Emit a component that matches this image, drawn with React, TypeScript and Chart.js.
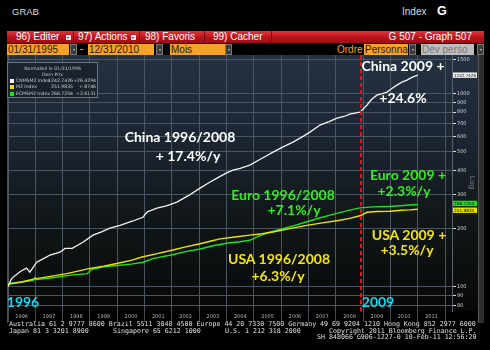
import React, { useEffect, useRef } from "react";
import { Chart, registerables } from "chart.js";
Chart.register(...registerables);

// ---------- data ----------
const chinaT = [1996.0, 1996.1, 1996.15, 1996.45, 1996.68, 1996.8, 1997.05, 1997.3, 1997.54, 1997.9, 1998.09, 1998.35, 1998.74, 1999.11, 1999.4, 1999.73, 2000.1, 2000.57, 2000.94, 2001.1, 2001.45, 2001.8, 2002.18, 2002.6, 2003.03, 2003.35, 2003.65, 2004.0, 2004.23, 2004.5, 2004.85, 2005.3, 2005.7, 2006.05, 2006.43, 2006.8, 2007.05, 2007.42, 2007.75, 2008.04, 2008.3, 2008.51, 2008.88, 2009.0, 2009.14, 2009.3, 2009.5, 2009.7, 2009.87, 2010.05, 2010.23, 2010.4, 2010.6, 2010.8, 2011.0];
const chinaV = [100, 108, 111, 120, 125, 119, 134, 140, 146, 151, 158, 158, 170, 185, 192, 201, 208, 219, 229, 244, 255, 262, 274, 296, 324, 345, 365, 388, 401, 410, 426, 462, 497, 528, 560, 600, 631, 686, 715, 745, 760, 782, 800, 830, 871, 930, 980, 998, 1016, 1060, 1104, 1140, 1172, 1215, 1242.74];

const usaT = [1996.0, 1996.5, 1996.93, 1997.5, 1998.15, 1998.6, 1999.0, 1999.5, 1999.98, 2000.5, 2000.94, 2001.5, 2002.04, 2002.5, 2003.03, 2003.4, 2003.76, 2004.3, 2004.85, 2005.3, 2005.7, 2006.3, 2006.94, 2007.5, 2008.15, 2008.5, 2008.88, 2009.14, 2009.5, 2009.98, 2010.4, 2010.7, 2011.0];
const usaV = [103, 106, 109.6, 113, 117, 121, 124.5, 128, 132, 137, 143, 149, 155, 161, 167, 172, 177, 181, 185, 188, 192, 200, 208, 214, 221, 226, 233, 243, 245, 246, 249, 250, 251.98];

const euroT = [1996.0, 1996.5, 1996.93, 1996.99, 1997.05, 1997.78, 1998.3, 1998.9, 1999.05, 1999.5, 2000.0, 2000.5, 2000.95, 2001.3, 2002.05, 2002.5, 2003.03, 2003.5, 2004.0, 2004.49, 2004.85, 2005.22, 2005.6, 2006.06, 2006.5, 2006.94, 2007.4, 2007.89, 2008.4, 2008.88, 2009.36, 2009.8, 2010.23, 2010.6, 2011.0];
const euroV = [104, 106, 108, 112, 109, 112, 115, 117, 123, 127, 129, 131, 134, 140, 147, 152, 157, 163, 168, 171, 174, 184, 192, 200, 208, 217, 227, 237, 247, 256, 259, 260, 262, 264, 266.73];

const seriesNames = ["CNMSM2 Index", "M2 Index", "ECMSM2 Index"];
const seriesLast = ["1242.7426", "251.9835", "266.7254"];
const seriesChange = ["+26.4294", "+.8746", "+2.6131"];
const seriesColors = ["#f2f2f2", "#ece400", "#1fe01f"];

const yTicks = [80, 90, 100, 200, 300, 400, 500, 600, 700, 800, 900, 1000, 1500];
const yearGrid = [1996, 1997, 1998, 1999, 2000, 2001, 2002, 2003, 2004, 2005, 2006, 2007, 2008, 2009, 2010, 2011, 2012];
const yearLabels = [1996, 1997, 1998, 1999, 2000, 2001, 2002, 2003, 2004, 2005, 2006, 2007, 2008, 2009, 2010, 2011];
const splitYear = 2008.92;
const xMin = 1996;
const xMax = 2012.25;
const yMin = 75;
const yMax = 1580;

// ---------- annotation layout ----------
const notes = [
  { t: "China 1996/2008", c: "#ffffff", x: 180, y: 137 },
  { t: "+ 17.4%/y", c: "#ffffff", x: 188, y: 156 },
  { t: "China 2009 +", c: "#ffffff", x: 403, y: 66 },
  { t: "+24.6%", c: "#ffffff", x: 403, y: 98 },
  { t: "Euro 1996/2008", c: "#2ef01a", x: 283, y: 195 },
  { t: "+7.1%/y", c: "#2ef01a", x: 294, y: 210 },
  { t: "Euro 2009 +", c: "#2ef01a", x: 408, y: 175 },
  { t: "+2.3%/y", c: "#2ef01a", x: 404, y: 191 },
  { t: "USA 2009 +", c: "#f5e60a", x: 409, y: 235 },
  { t: "+3.5%/y", c: "#f5e60a", x: 407, y: 250 },
  { t: "USA 1996/2008", c: "#f5e60a", x: 279, y: 259 },
  { t: "+6.3%/y", c: "#f5e60a", x: 278, y: 276 },
  { t: "1996", c: "#14d8f0", x: 23, y: 302 },
  { t: "2009", c: "#14d8f0", x: 378, y: 302 },
];

const bgPlugin = {
  id: "bgPanel",
  beforeDraw(chart: any) {
    const { ctx, chartArea: a } = chart;
    const g = ctx.createLinearGradient(0, a.top, 0, a.bottom);
    g.addColorStop(0, "#243242");
    g.addColorStop(0.37, "#1b2330");
    g.addColorStop(0.55, "#141b1f");
    g.addColorStop(0.68, "#0f1516");
    g.addColorStop(0.92, "#0a0c0c");
    g.addColorStop(1, "#070707");
    ctx.save();
    ctx.fillStyle = g;
    ctx.fillRect(7, a.top, 471, a.bottom - a.top);
    ctx.restore();
  },
};

const splitPlugin = {
  id: "splitLine",
  afterDatasetsDraw(chart: any) {
    const { ctx, chartArea: a, scales } = chart;
    const x = Math.round(scales.x.getPixelForValue(splitYear));
    ctx.save();
    ctx.strokeStyle = "#e8141a";
    ctx.lineWidth = 2;
    ctx.setLineDash([4, 3]);
    ctx.beginPath();
    ctx.moveTo(x, a.top);
    ctx.lineTo(x, a.bottom);
    ctx.stroke();
    ctx.restore();
  },
};

const tagPlugin = {
  id: "lastTags",
  afterDraw(chart: any) {
    const { ctx, scales } = chart;
    const y = scales.y;
    const left = chart.chartArea.right + 1;
    chart.data.datasets.forEach((ds: any, i: number) => {
      const last = ds.data[ds.data.length - 1].y;
      let py = y.getPixelForValue(last);
      if (i === 1) py += 1;
      if (i === 2) py -= 1;
      ctx.save();
      ctx.fillStyle = seriesColors[i];
      ctx.fillRect(left, py - 2.7, 24, 5.4);
      ctx.fillStyle = "#000";
      ctx.font = "4.3px 'DejaVu Sans'";
      ctx.textBaseline = "middle";
      ctx.fillText(seriesLast[i], left + 1, py + 0.3, 22);
      ctx.restore();
    });
  },
};

const abs = (l: number, t: number, w: number, h: number, extra: any = {}) => ({
  position: "absolute" as const,
  left: l,
  top: t,
  width: w,
  height: h,
  ...extra,
});

export default function App() {
  const ref = useRef<HTMLCanvasElement>(null);
  useEffect(() => {
    document.body.style.margin = "0";
    const pts = (t: number[], v: number[]) => t.map((x, i) => ({ x, y: v[i] }));
    const chart = new Chart(ref.current as HTMLCanvasElement, {
      type: "line",
      data: {
        datasets: [
          { label: seriesNames[0], data: pts(chinaT, chinaV), borderColor: seriesColors[0], borderWidth: 1.3, pointRadius: 0, tension: 0 },
          { label: seriesNames[1], data: pts(usaT, usaV), borderColor: seriesColors[1], borderWidth: 1.4, pointRadius: 0, tension: 0 },
          { label: seriesNames[2], data: pts(euroT, euroV), borderColor: seriesColors[2], borderWidth: 1.4, pointRadius: 0, tension: 0 },
        ],
      },
      options: {
        responsive: false,
        animation: false,
        devicePixelRatio: 1,
        layout: { padding: { left: 8, top: 55, right: 12, bottom: 27 } },
        plugins: { legend: { display: false }, tooltip: { enabled: false } },
        scales: {
          x: {
            type: "linear",
            min: xMin,
            max: xMax,
            position: "bottom",
            weight: 0,
            afterBuildTicks: (s: any) => {
              s.ticks = yearGrid.map((v) => ({ value: v }));
            },
            afterFit: (s: any) => {
              s.height = 0;
            },
            ticks: { display: false },
            grid: { color: "#4b5662", lineWidth: 1, tickLength: 11, tickColor: "#44484c" },
            border: { display: false },
          },
          x2: {
            type: "linear",
            min: xMin,
            max: xMax,
            position: "bottom",
            weight: 1,
            afterBuildTicks: (s: any) => {
              s.ticks = yearLabels.map((v) => ({ value: v + 0.5 }));
            },
            afterFit: (s: any) => {
              s.height = 12;
            },
            ticks: {
              autoSkip: false,
              maxRotation: 0,
              color: "#b4b4b4",
              font: { size: 5, family: "DejaVu Sans" },
              padding: 3,
              callback: (v: any) => String(Math.floor(Number(v))),
            },
            grid: { display: false, drawTicks: false },
            border: { display: false },
          },
          y: {
            type: "logarithmic",
            position: "right",
            min: yMin,
            max: yMax,
            afterBuildTicks: (s: any) => {
              s.ticks = yTicks.map((v) => ({ value: v }));
            },
            afterFit: (s: any) => {
              s.width = 26;
            },
            ticks: {
              color: "#cfcfcf",
              font: { size: 5, family: "DejaVu Sans" },
              padding: 1,
              autoSkip: false,
              callback: (v: any) => String(v),
            },
            grid: { color: "#4b5662", lineWidth: 1, tickLength: 4, tickColor: "#dddddd" },
            border: { display: true, color: "#5a626a" },
          },
        },
      } as any,
      plugins: [bgPlugin, splitPlugin, tagPlugin],
    });
    return () => chart.destroy();
  }, []);

  const ui = "'Liberation Sans', Arial, sans-serif";
  const mono = "'DejaVu Sans Mono', monospace";
  const annot = "Lato, 'Open Sans', sans-serif";

  const btn = (l: number) => (
    <div style={abs(l, 44, 7, 11, { background: "#3c3c3c", border: "1px solid #777", boxSizing: "border-box" })}>
      <div style={abs(1.5, 3.5, 2, 2, { borderLeft: "1.5px solid transparent", borderRight: "1.5px solid transparent", borderTop: "2px solid #ccc", width: 0, height: 0 })} />
    </div>
  );
  const orangeBox = (l: number, w: number, text: string, color = "#2b1a00", bg = "#f5a22a") => (
    <div style={abs(l, 44, w, 11, { background: bg, color, font: `10px ${ui}`, lineHeight: "11px", paddingLeft: 1, boxSizing: "border-box", whiteSpace: "pre", overflow: "hidden" })}>{text}</div>
  );

  return (
    <div style={abs(0, 0, 490, 350, { position: "fixed", background: "#000", overflow: "hidden" })}>
      {/* top bar */}
      <div style={abs(12, 6, 60, 12, { color: "#dcdcdc", font: `9.5px ${ui}`, lineHeight: "12px" })}>GRAB</div>
      <div style={abs(402, 6, 40, 12, { color: "#dcdcdc", font: `10px ${ui}`, lineHeight: "12px" })}>Index</div>
      <div style={abs(437, 4, 14, 14, { color: "#ffffff", font: `bold 12.5px ${ui}`, lineHeight: "14px" })}>G</div>

      {/* red toolbar */}
      <div style={abs(7, 31, 477, 12, { background: "linear-gradient(#e4343a, #b8141c 55%, #9c0e16)" })} />
      {[73, 139, 204, 271].map((x) => (
        <div key={x} style={abs(x, 31, 1, 12, { background: "#7a0a10" })} />
      ))}
      <div style={abs(16, 31, 60, 12, { color: "#fff", font: `10px ${ui}`, lineHeight: "12px", whiteSpace: "pre" })}>96) Editer</div>
      <div style={abs(78, 31, 60, 12, { color: "#fff", font: `10px ${ui}`, lineHeight: "12px", whiteSpace: "pre" })}>97) Actions</div>
      <div style={abs(145, 31, 60, 12, { color: "#fff", font: `10px ${ui}`, lineHeight: "12px", whiteSpace: "pre" })}>98) Favoris</div>
      <div style={abs(213, 31, 60, 12, { color: "#fff", font: `10px ${ui}`, lineHeight: "12px", whiteSpace: "pre" })}>99) Cacher</div>
      <div style={abs(380, 31, 92, 12, { color: "#fff", font: `10px ${ui}`, lineHeight: "12px", whiteSpace: "pre", textAlign: "right" })}>G 507 - Graph 507</div>
      {[66, 131].map((x) => (
        <div key={x} style={abs(x, 35, 5, 5, { background: "#eee" })}>
          <div style={abs(1, 1.5, 0, 0, { borderLeft: "1.5px solid transparent", borderRight: "1.5px solid transparent", borderTop: "2px solid #a00" })} />
        </div>
      ))}

      {/* second row */}
      {orangeBox(7, 62, "01/31/1995")}
      {btn(70)}
      <div style={abs(80, 43, 6, 12, { color: "#ddd", font: `10px ${ui}`, lineHeight: "12px" })}>-</div>
      {orangeBox(88, 66, "12/31/2010")}
      {btn(156)}
      {orangeBox(170, 55, "Mois")}
      {btn(225)}
      <div style={abs(337, 44, 26, 11, { color: "#f5a22a", font: `10px ${ui}`, lineHeight: "11px" })}>Ordre</div>
      {orangeBox(364, 44, "Personna")}
      {btn(409)}
      {orangeBox(421, 53, "Dev perso", "#7a7a7a", "#bdbdbd")}
      {btn(477)}

      {/* chart */}
      <canvas ref={ref} width={490} height={350} style={abs(0, 0, 490, 350, { display: "block" })} />

      {/* right scroll strip */}
      <div style={abs(478, 55, 6, 268, { background: "#2e2e2e", borderLeft: "1px solid #555", boxSizing: "border-box" })} />
      <div style={abs(7, 55, 1, 268, { background: "#4a4f55" })} />

      {/* Log label */}
      <div style={abs(462, 178, 20, 9, { color: "#7c8288", font: `8px ${ui}`, lineHeight: "9px", transform: "rotate(90deg)", textAlign: "center" })}>Log</div>

      {/* legend box */}
      <div style={abs(7, 62, 91, 36, { border: "1px solid #6d7680", background: "rgba(26,34,44,0.92)", boxSizing: "border-box" })}>
        <div style={abs(0, 3, 89, 6, { textAlign: "center", color: "#c8c8c8", font: "4.6px 'DejaVu Sans'", lineHeight: "6px" })}>Normalisé le 01/31/1996</div>
        <div style={abs(0, 9, 89, 6, { textAlign: "center", color: "#c8c8c8", font: "4.6px 'DejaVu Sans'", lineHeight: "6px" })}>Dern Prix</div>
        {seriesNames.map((n, i) => (
          <React.Fragment key={n}>
            <div style={abs(2, 15.5 + i * 6.5, 4, 4, { background: seriesColors[i] })} />
            <div style={abs(8, 14.5 + i * 6.5, 40, 6, { color: "#d0d0d0", font: "4.6px 'DejaVu Sans'", lineHeight: "6px", whiteSpace: "pre" })}>{n}</div>
            <div style={abs(36, 14.5 + i * 6.5, 29, 6, { color: "#d0d0d0", font: "4.6px 'DejaVu Sans'", lineHeight: "6px", textAlign: "right" })}>{seriesLast[i]}</div>
            <div style={abs(62, 14.5 + i * 6.5, 26, 6, { color: "#d0d0d0", font: "4.6px 'DejaVu Sans'", lineHeight: "6px", textAlign: "right" })}>{seriesChange[i]}</div>
          </React.Fragment>
        ))}
      </div>

      {/* annotations */}
      {notes.map((n) => (
        <div
          key={n.t}
          style={{
            position: "absolute",
            left: n.x,
            top: n.y,
            transform: "translate(-50%, -50%)",
            color: n.c,
            font: `bold 14px ${annot}`,
            lineHeight: "14px",
            whiteSpace: "pre",
          }}
        >
          {n.t}
        </div>
      ))}

      {/* footer */}
      <div style={abs(9, 321, 480, 7, { color: "#e0e0e0", font: `6.63px ${mono}`, lineHeight: "7px", whiteSpace: "pre" })}>
        Australia 61 2 9777 8600 Brazil 5511 3048 4500 Europe 44 20 7330 7500 Germany 49 69 9204 1210 Hong Kong 852 2977 6000
      </div>
      <div style={abs(9, 327.5, 100, 7, { color: "#e0e0e0", font: `6.63px ${mono}`, lineHeight: "7px", whiteSpace: "pre" })}>Japan 81 3 3201 8900</div>
      <div style={abs(113, 327.5, 100, 7, { color: "#e0e0e0", font: `6.63px ${mono}`, lineHeight: "7px", whiteSpace: "pre" })}>Singapore 65 6212 1000</div>
      <div style={abs(225, 327.5, 100, 7, { color: "#e0e0e0", font: `6.63px ${mono}`, lineHeight: "7px", whiteSpace: "pre" })}>U.S. 1 212 318 2000</div>
      <div style={abs(329, 327.5, 160, 7, { color: "#e0e0e0", font: `6.63px ${mono}`, lineHeight: "7px", whiteSpace: "pre" })}>Copyright 2011 Bloomberg Finance L.P.</div>
      <div style={abs(317, 334, 170, 7, { color: "#e0e0e0", font: `6.63px ${mono}`, lineHeight: "7px", whiteSpace: "pre" })}>SH 848066 G906-1227-0 10-Feb-11 12:56:29</div>
    </div>
  );
}
